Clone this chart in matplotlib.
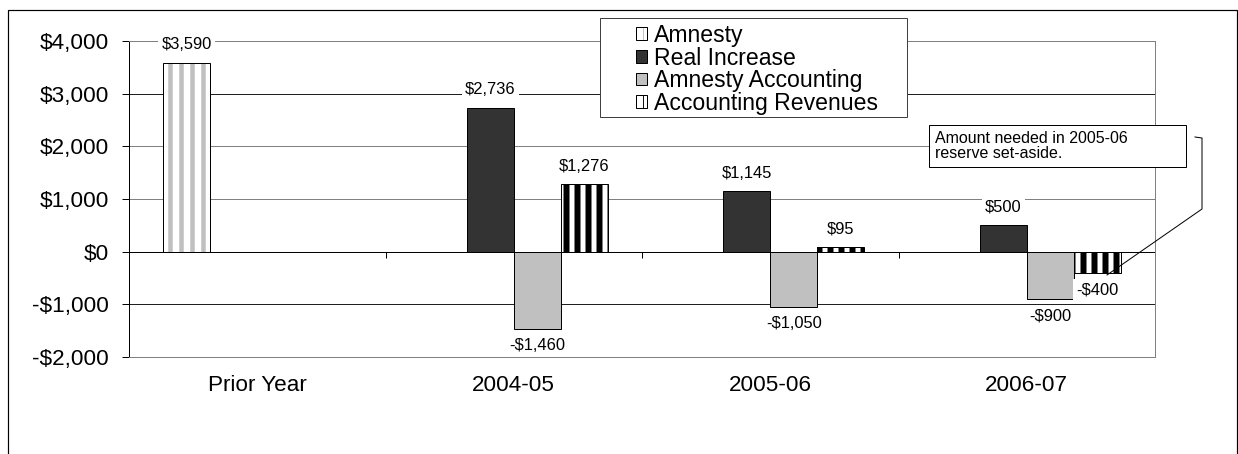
import numpy as np
import matplotlib
matplotlib.use('Agg')
import matplotlib.pyplot as plt
from matplotlib.patches import Rectangle, Patch
from matplotlib.lines import Line2D
from matplotlib.legend_handler import HandlerTuple

# ---------------- data ----------------
categories = ['Prior Year', '2004-05', '2005-06', '2006-07']
series_names = ['Amnesty', 'Real Increase', 'Amnesty Accounting', 'Accounting Revenues']
amnesty = [3590, None, None, None]
real_increase = [None, 2736, 1145, 500]
amnesty_accounting = [None, -1460, -1050, -900]
accounting_revenues = [None, 1276, 95, -400]
y_ticks = [-2000, -1000, 0, 1000, 2000, 3000, 4000]
y_tick_labels = ['-$2,000', '-$1,000', '$0', '$1,000', '$2,000', '$3,000', '$4,000']
note_text = 'Amount needed in 2005-06\nreserve set-aside.'

# ---------------- setup ----------------
DPI = 66
W, H = 1238, 454
PT = 72.0 / DPI  # points per pixel

plt.rcParams['font.family'] = ['Liberation Sans', 'DejaVu Sans']

fig = plt.figure(figsize=(W / DPI, H / DPI), dpi=DPI)
fig.patch.set_facecolor('white')

def fx(px):
    return px / W

def fy(py):
    return 1 - py / H

# outer frame
fig.patches.append(Rectangle((fx(8), -0.05), fx(1237) - fx(8), fy(10) + 0.05,
                             transform=fig.transFigure, fill=False,
                             edgecolor='black', lw=1.2 * PT, zorder=0))

ax = fig.add_axes([fx(129), fy(357), fx(1155) - fx(129), fy(41) - fy(357)])
ax.set_xlim(-0.5, len(categories) - 0.5)
ax.set_ylim(-2000, 4000)

bw = 0.183
offsets = [-1.5 * bw, -0.5 * bw, 0.5 * bw, 1.5 * bw]


def xs_vals(vals, k):
    xs = [i + offsets[k] for i, v in enumerate(vals) if v is not None]
    vs = [v for v in vals if v is not None]
    return xs, vs


def hatched_bar(vals, k, hatch_color, hatch_lw_px):
    xs, vs = xs_vals(vals, k)
    with plt.rc_context({'hatch.linewidth': hatch_lw_px * PT}):
        b1 = ax.bar(xs, vs, bw, color='white', edgecolor=hatch_color, hatch='|',
                    lw=0, zorder=2)
        for p in b1:
            if hasattr(p, 'set_hatch_linewidth'):
                p.set_hatch_linewidth(hatch_lw_px * PT)
    b2 = ax.bar(xs, vs, bw, fill=False, edgecolor='black', lw=PT, zorder=3)
    return b1, b2, xs, vs


def solid_bar(vals, k, color):
    xs, vs = xs_vals(vals, k)
    b = ax.bar(xs, vs, bw, color=color, edgecolor='black', lw=PT, zorder=3)
    return b, xs, vs


a1, a2, ax_x, ax_v = hatched_bar(amnesty, 0, '#C0C0C0', 4.5)
r, r_x, r_v = solid_bar(real_increase, 1, '#333333')
aa, aa_x, aa_v = solid_bar(amnesty_accounting, 2, '#C0C0C0')
c1, c2, c_x, c_v = hatched_bar(accounting_revenues, 3, 'black', 6)

# data labels
def fmt(v):
    return f"${v:,}" if v >= 0 else f"-${-v:,}"

for xs, vs in [(ax_x, ax_v), (r_x, r_v), (aa_x, aa_v), (c_x, c_v)]:
    for x, v in zip(xs, vs):
        off = 18 if v >= 0 else -17
        ax.annotate(fmt(v), xy=(x, v), xytext=(0, off * PT), textcoords='offset points',
                    ha='center', va='center', fontsize=16.5 * PT, color='black',
                    bbox=dict(boxstyle='square,pad=0.2', fc='white', ec='none'),
                    zorder=6)

# y axis
ax.set_yticks(y_ticks)
ax.set_yticklabels(y_tick_labels, fontsize=22.5 * PT)
ax.tick_params(axis='y', direction='out', length=7 * PT, width=PT, color='black', pad=13 * PT)
ax.yaxis.grid(True, color='#808080', lw=PT)
ax.set_axisbelow(True)
for tv, gl in zip(y_ticks, ax.get_ygridlines()):
    if tv in (3000, -1000):
        gl.set_color('#202020')
    if tv == 0:
        gl.set_visible(False)

# x labels at bottom
ax.set_xticks(range(len(categories)))
ax.set_xticklabels(categories, fontsize=22.5 * PT)
ax.tick_params(axis='x', length=0, pad=18 * PT)

for s in ['top', 'right', 'bottom']:
    ax.spines[s].set_color('#808080')
    ax.spines[s].set_linewidth(PT)
ax.spines['left'].set_color('black')
ax.spines['left'].set_linewidth(PT)

# zero axis with boundary ticks
sec = ax.secondary_xaxis(2000 / 6000)
sec.set_xticks([i - 0.5 for i in range(len(categories) + 1)])
sec.set_xticklabels([''] * (len(categories) + 1))
sec.tick_params(axis='x', direction='out', length=6 * PT, width=PT, color='black')
sec.spines['bottom'].set_color('black')
sec.spines['bottom'].set_linewidth(PT)
for s in ['top', 'left', 'right']:
    if s in sec.spines:
        sec.spines[s].set_visible(False)

# legend frame and legend
fig.patches.append(Rectangle((fx(600), fy(117)), fx(907) - fx(600), fy(18) - fy(117),
                             transform=fig.transFigure, fc='white', ec='#404040',
                             lw=PT, zorder=4))
handles = [(a1[0], a2[0]), r[0], aa[0], (c1[0], c2[0])]
LFS = 23
leg = fig.legend(handles, series_names, loc='upper left',
                 bbox_to_anchor=(fx(636), fy(24)), frameon=False,
                 fontsize=LFS * PT, handlelength=11 / LFS, handleheight=11 / LFS,
                 handletextpad=7 / LFS, labelspacing=-0.02, borderpad=0,
                 borderaxespad=0, handler_map={tuple: HandlerTuple(ndivide=1, pad=0)})
leg.set_zorder(5)

# note box
fig.patches.append(Rectangle((fx(929), fy(167)), fx(1186) - fx(929), fy(125) - fy(167),
                             transform=fig.transFigure, fc='white', ec='black',
                             lw=PT, zorder=4))
fig.text(fx(935), fy(146), note_text, ha='left', va='center', fontsize=16 * PT,
         linespacing=1.08, zorder=5)

# callout line
pts = [(1107, 275), (1202, 209), (1202, 138), (1195, 137)]
fig.lines.append(Line2D([fx(p[0]) for p in pts], [fy(p[1]) for p in pts],
                        transform=fig.transFigure, color='black', lw=PT, zorder=6))

fig.savefig('out.png', dpi=DPI, facecolor='white')
